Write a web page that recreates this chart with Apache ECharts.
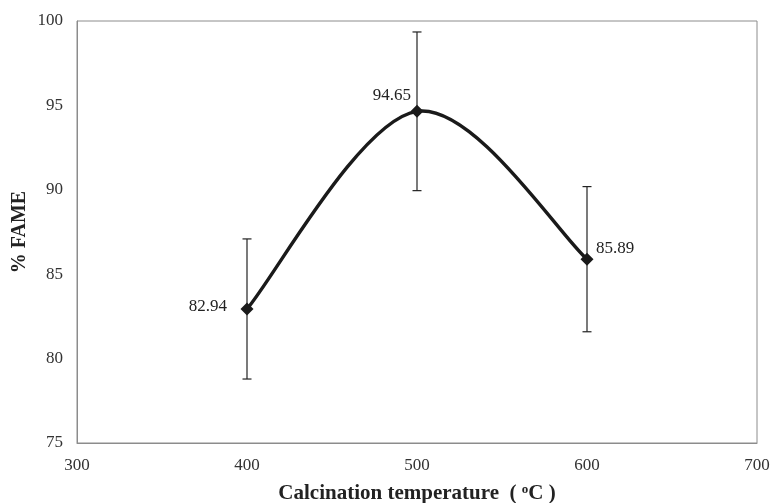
<!DOCTYPE html>
<html>
<head>
<meta charset="utf-8">
<script src="https://cdn.jsdelivr.net/npm/echarts@6/dist/echarts.min.js"></script>
<style>
  html, body { margin: 0; padding: 0; background: #fff; }
  #chart { width: 772px; height: 503px; }
</style>
</head>
<body>
<div id="chart"></div>
<script>
// Calcination temperature (°C) vs. FAME yield (%)
const temperatures = [400, 500, 600];
const fameYield = [82.94, 94.65, 85.89];
const fameError = [4.15, 4.7, 4.3];

const serif = '"Liberation Serif", "Times New Roman", serif';

// label placement per point: [align, offsetX, offsetY]
const labelPlacement = [['right', -20, -2], ['right', -6, -16], ['left', 9, -11]];

const pointData = temperatures.map((t, i) => ({
  value: [t, fameYield[i]],
  label: {
    show: true,
    position: 'inside',
    align: labelPlacement[i][0],
    verticalAlign: 'middle',
    offset: [labelPlacement[i][1], labelPlacement[i][2]],
    formatter: fameYield[i].toFixed(2)
  }
}));

const errorData = temperatures.map((t, i) => [t, fameYield[i] - fameError[i], fameYield[i] + fameError[i]]);

// one entry per curve segment (between point i and i+1)
const segmentData = temperatures.slice(0, -1).map((t, i) => [t, fameYield[i], temperatures[i + 1], fameYield[i + 1]]);

const chart = echarts.init(document.getElementById('chart'));
chart.setOption({
  animation: false,
  backgroundColor: '#fff',
  textStyle: { fontFamily: serif },
  grid: {
    left: 77, right: 15, top: 21, bottom: 60,
    outerBoundsMode: 'none',
    containLabel: false,
    show: true, borderColor: '#8c8c8c', borderWidth: 1
  },
  xAxis: {
    type: 'value',
    min: 300, max: 700, interval: 100,
    name: 'Calcination temperature  ( {sup|o}C )',
    nameLocation: 'middle',
    nameGap: 40,
    nameMoveOverlap: false,
    nameTextStyle: {
      fontFamily: serif, fontSize: 21, fontWeight: 'bold', color: '#222',
      rich: {
        sup: { fontFamily: serif, fontSize: 13, fontWeight: 'bold', color: '#222', verticalAlign: 'top', padding: [0, 0, 9, 0] }
      }
    },
    axisLine: { show: true, lineStyle: { color: '#8c8c8c', width: 1 } },
    axisTick: { show: false },
    splitLine: { show: false },
    axisLabel: { fontFamily: serif, fontSize: 17, color: '#333', margin: 14 }
  },
  yAxis: {
    type: 'value',
    min: 75, max: 100, interval: 5,
    name: '% FAME',
    nameLocation: 'middle',
    nameGap: 47,
    nameMoveOverlap: false,
    nameRotate: 90,
    nameTextStyle: { fontFamily: serif, fontSize: 20, fontWeight: 'bold', color: '#222' },
    axisLine: { show: true, lineStyle: { color: '#8c8c8c', width: 1 } },
    axisTick: { show: false },
    splitLine: { show: false },
    axisLabel: { fontFamily: serif, fontSize: 17, color: '#333', margin: 14 }
  },
  series: [
    {
      // vertical error bars with caps
      type: 'custom',
      z: 1,
      renderItem: function (params, api) {
        const x = api.value(0);
        const lo = api.coord([x, api.value(1)]);
        const hi = api.coord([x, api.value(2)]);
        const cap = 4.5;
        const style = { stroke: '#222', lineWidth: 1.2 };
        return {
          type: 'group',
          children: [
            { type: 'line', shape: { x1: hi[0], y1: hi[1], x2: lo[0], y2: lo[1] }, style: style },
            { type: 'line', shape: { x1: hi[0] - cap, y1: hi[1], x2: hi[0] + cap, y2: hi[1] }, style: style },
            { type: 'line', shape: { x1: lo[0] - cap, y1: lo[1], x2: lo[0] + cap, y2: lo[1] }, style: style }
          ]
        };
      },
      data: errorData
    },
    {
      // smoothed connecting curve (Catmull-Rom style cubic segments)
      type: 'custom',
      z: 2,
      renderItem: function (params, api) {
        const n = temperatures.length;
        const i = params.dataIndex;
        const pt = k => api.coord([temperatures[Math.max(0, Math.min(n - 1, k))], fameYield[Math.max(0, Math.min(n - 1, k))]]);
        const p0 = pt(i - 1), p1 = pt(i), p2 = pt(i + 1), p3 = pt(i + 2);
        const k = 1 / 6;
        const c1 = [p1[0] + (p2[0] - p0[0]) * k, p1[1] + (p2[1] - p0[1]) * k];
        const c2 = [p2[0] - (p3[0] - p1[0]) * k, p2[1] - (p3[1] - p1[1]) * k];
        return {
          type: 'bezierCurve',
          shape: { x1: p1[0], y1: p1[1], x2: p2[0], y2: p2[1], cpx1: c1[0], cpy1: c1[1], cpx2: c2[0], cpy2: c2[1] },
          style: { stroke: '#1a1a1a', lineWidth: 3.4, fill: null, lineCap: 'round' }
        };
      },
      data: segmentData
    },
    {
      type: 'scatter',
      z: 3,
      symbol: 'diamond',
      symbolSize: 13,
      itemStyle: { color: '#1a1a1a', opacity: 1 },
      label: { fontFamily: serif, fontSize: 17, color: '#222' },
      data: pointData
    }
  ]
});
</script>
</body>
</html>
